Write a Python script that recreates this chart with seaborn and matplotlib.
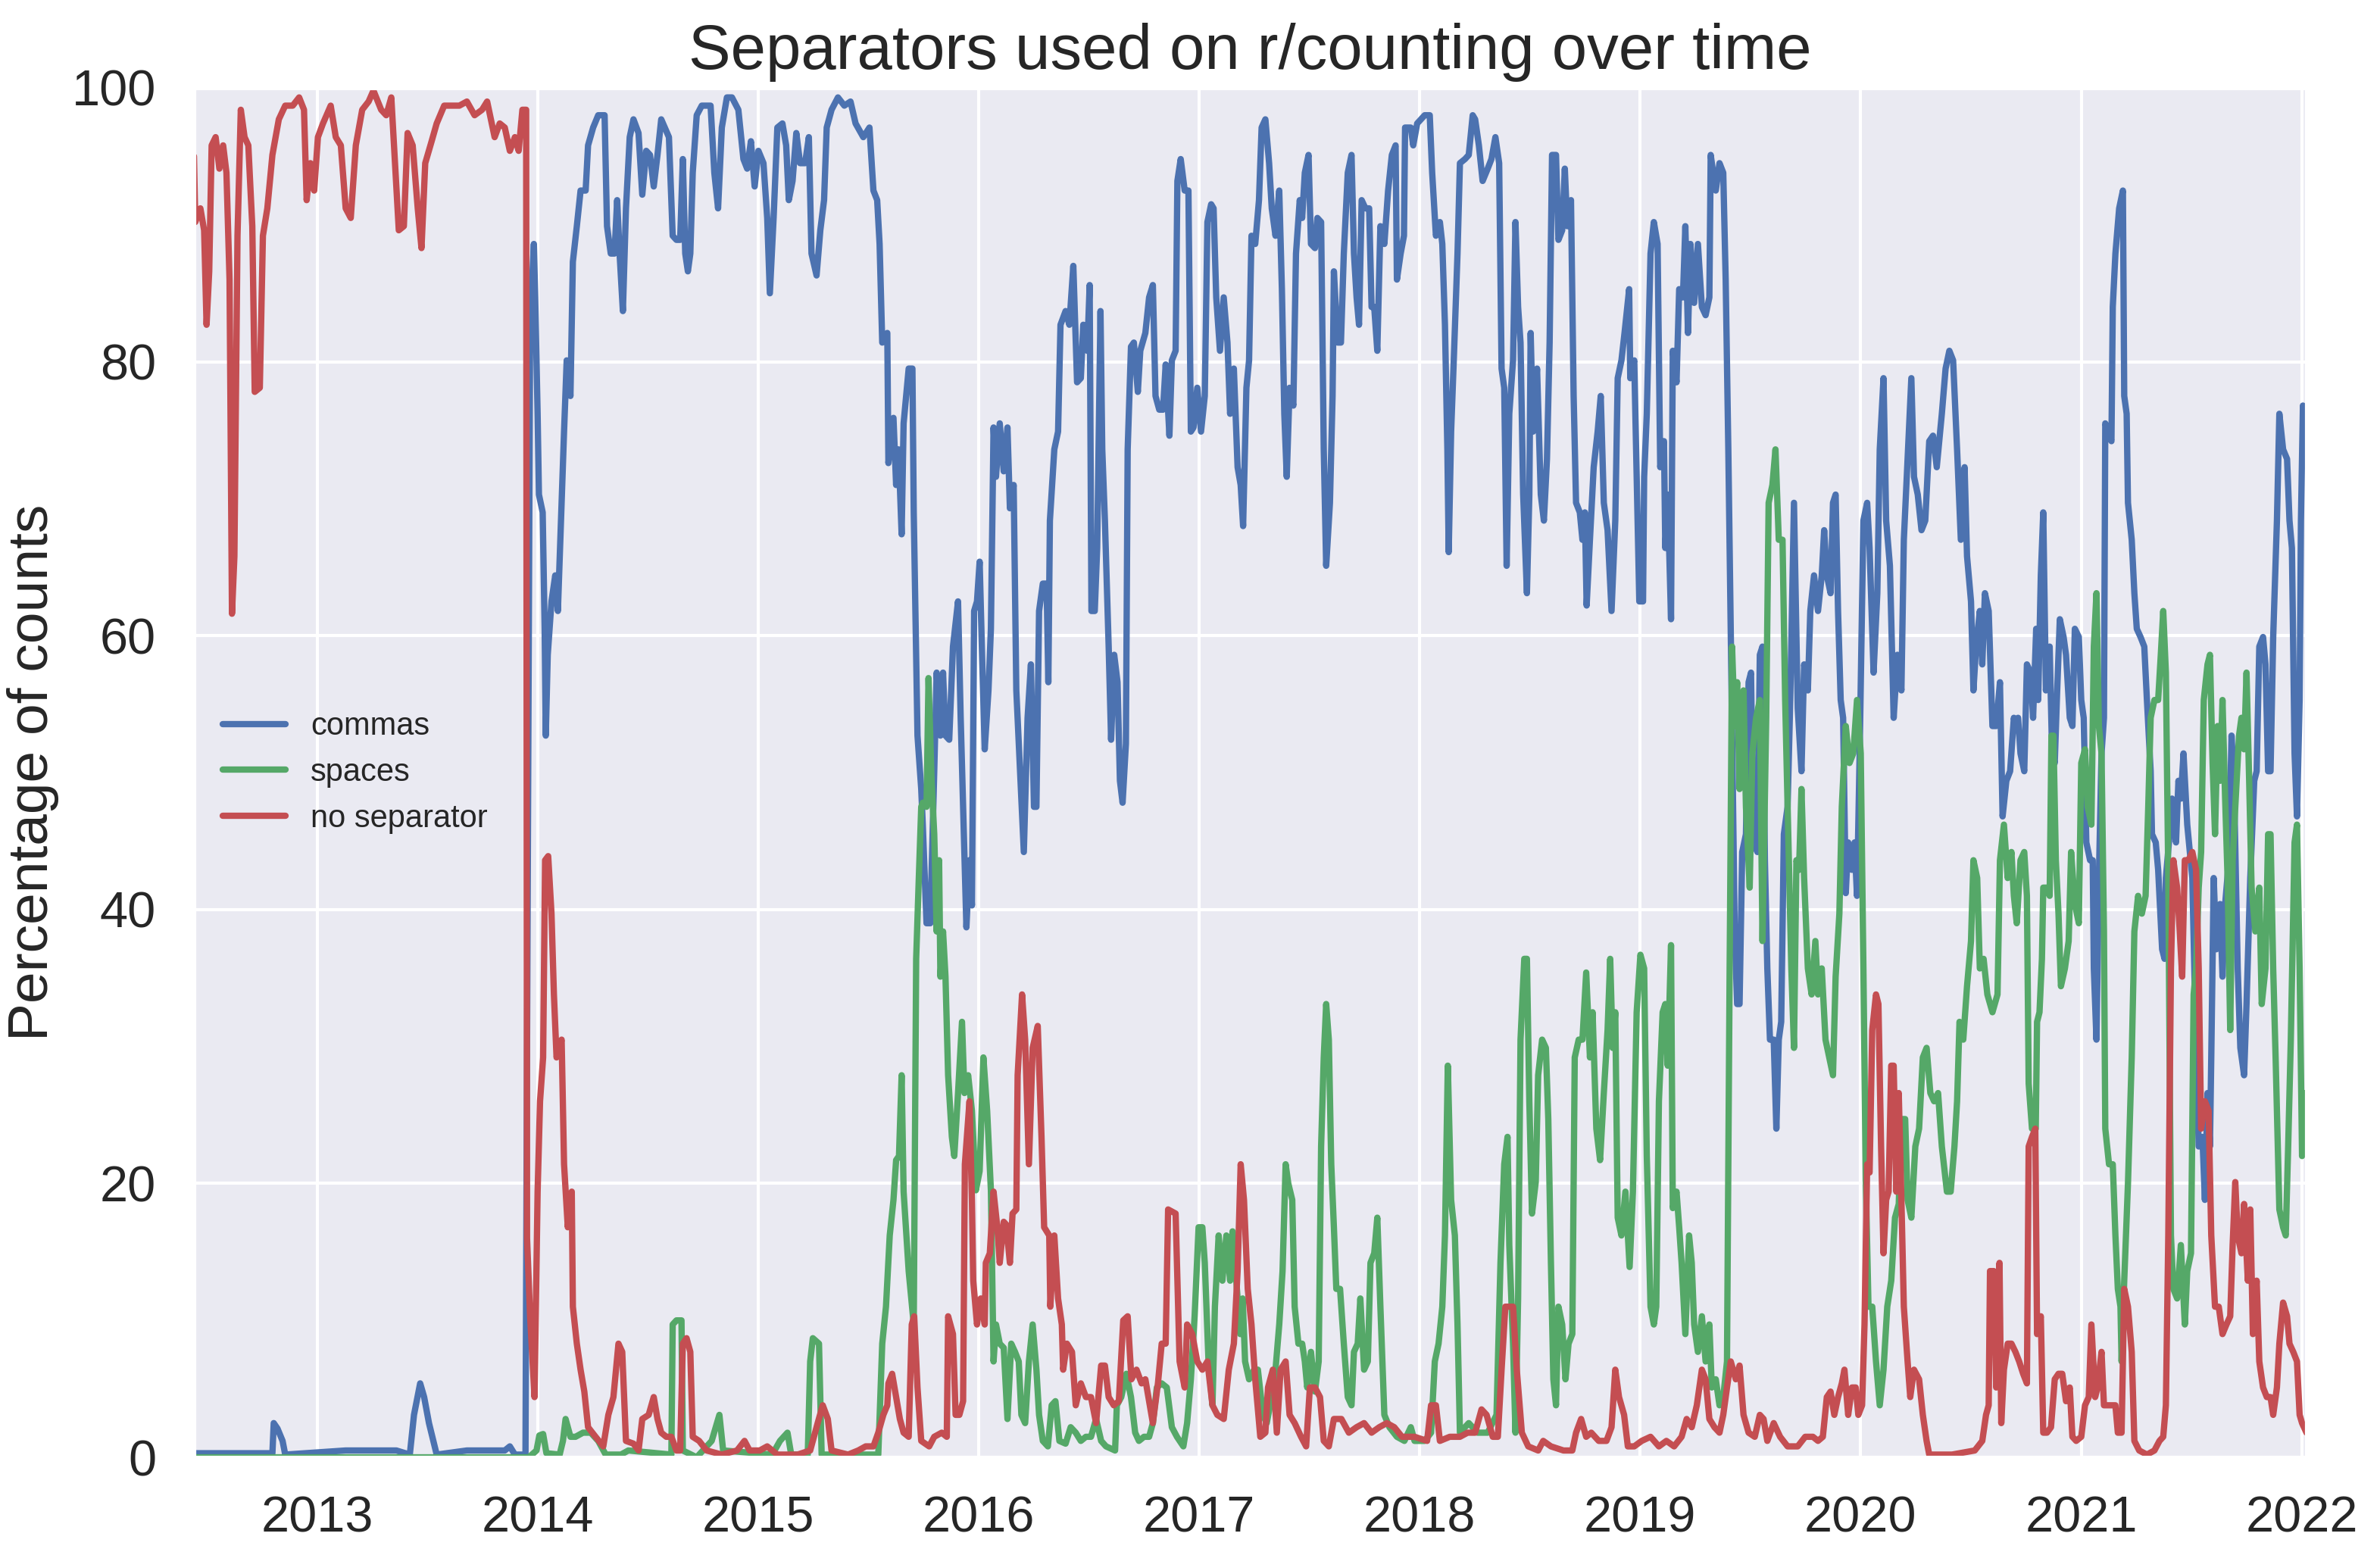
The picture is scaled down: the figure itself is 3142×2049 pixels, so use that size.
import pandas as pd
import matplotlib
matplotlib.use("Agg")
import matplotlib.pyplot as plt
import matplotlib.dates as mdates
import seaborn as sns

# values (decimal year, percent of counts)
series_names = ["commas", "spaces", "no separator"]
series_colors = ["#4C72B0", "#55A868", "#C44E52"]

commas_years = [
    2012.442, 2012.797, 2012.803, 2012.820, 2012.843, 2012.855, 2013.129, 2013.359, 2013.420, 2013.439,
    2013.467, 2013.485, 2013.507, 2013.542, 2013.679, 2013.851, 2013.874, 2013.897, 2013.945, 2013.952,
    2013.966, 2013.983, 2013.989, 2014.000, 2014.006, 2014.023, 2014.032, 2014.037, 2014.046, 2014.063,
    2014.080, 2014.092, 2014.109, 2014.120, 2014.132, 2014.149, 2014.160, 2014.178, 2014.195, 2014.218,
    2014.229, 2014.252, 2014.275, 2014.304, 2014.315, 2014.332, 2014.349, 2014.361, 2014.372, 2014.387,
    2014.401, 2014.418, 2014.435, 2014.458, 2014.475, 2014.493, 2014.510, 2014.527, 2014.544, 2014.561,
    2014.596, 2014.613, 2014.630, 2014.647, 2014.659, 2014.670, 2014.682, 2014.693, 2014.704, 2014.722,
    2014.745, 2014.785, 2014.802, 2014.819, 2014.836, 2014.859, 2014.882, 2014.911, 2014.934, 2014.951,
    2014.968, 2014.985, 2015.002, 2015.025, 2015.042, 2015.054, 2015.071, 2015.088, 2015.111, 2015.128,
    2015.140, 2015.157, 2015.174, 2015.191, 2015.214, 2015.231, 2015.243, 2015.266, 2015.283, 2015.300,
    2015.312, 2015.334, 2015.363, 2015.392, 2015.420, 2015.443, 2015.478, 2015.506, 2015.524, 2015.541,
    2015.552, 2015.564, 2015.587, 2015.592, 2015.615, 2015.627, 2015.638, 2015.652, 2015.661, 2015.684,
    2015.701, 2015.707, 2015.724, 2015.741, 2015.748, 2015.765, 2015.782, 2015.800, 2015.811, 2015.828,
    2015.840, 2015.851, 2015.868, 2015.885, 2015.908, 2015.920, 2015.931, 2015.946, 2015.960, 2015.971,
    2015.981, 2015.994, 2016.006, 2016.017, 2016.029, 2016.046, 2016.057, 2016.069, 2016.080, 2016.097,
    2016.115, 2016.132, 2016.143, 2016.160, 2016.172, 2016.189, 2016.206, 2016.223, 2016.238, 2016.252,
    2016.263, 2016.275, 2016.292, 2016.309, 2016.317, 2016.324, 2016.344, 2016.361, 2016.372, 2016.395,
    2016.412, 2016.430, 2016.447, 2016.464, 2016.475, 2016.493, 2016.504, 2016.512, 2016.527, 2016.538,
    2016.553, 2016.561, 2016.573, 2016.590, 2016.601, 2016.615, 2016.630, 2016.641, 2016.653, 2016.668,
    2016.676, 2016.691, 2016.704, 2016.722, 2016.733, 2016.756, 2016.773, 2016.790, 2016.802, 2016.819,
    2016.836, 2016.848, 2016.865, 2016.876, 2016.893, 2016.901, 2016.916, 2016.934, 2016.951, 2016.962,
    2016.974, 2016.991, 2017.008, 2017.025, 2017.037, 2017.054, 2017.065, 2017.077, 2017.094, 2017.111,
    2017.128, 2017.140, 2017.157, 2017.174, 2017.188, 2017.199, 2017.214, 2017.226, 2017.237, 2017.254,
    2017.271, 2017.283, 2017.300, 2017.317, 2017.329, 2017.346, 2017.363, 2017.375, 2017.386, 2017.397,
    2017.410, 2017.427, 2017.439, 2017.456, 2017.467, 2017.479, 2017.496, 2017.507, 2017.525, 2017.536,
    2017.553, 2017.565, 2017.576, 2017.593, 2017.605, 2017.611, 2017.628, 2017.643, 2017.656, 2017.674,
    2017.691, 2017.702, 2017.714, 2017.725, 2017.737, 2017.754, 2017.771, 2017.782, 2017.794, 2017.808,
    2017.822, 2017.840, 2017.857, 2017.874, 2017.891, 2017.897, 2017.914, 2017.929, 2017.934, 2017.960,
    2017.971, 2017.989, 2018.023, 2018.046, 2018.057, 2018.074, 2018.092, 2018.103, 2018.115, 2018.126,
    2018.132, 2018.143, 2018.155, 2018.172, 2018.183, 2018.206, 2018.223, 2018.241, 2018.252, 2018.269,
    2018.286, 2018.309, 2018.326, 2018.344, 2018.361, 2018.372, 2018.384, 2018.395, 2018.407, 2018.424,
    2018.435, 2018.447, 2018.458, 2018.470, 2018.487, 2018.498, 2018.504, 2018.515, 2018.533, 2018.550,
    2018.564, 2018.578, 2018.590, 2018.601, 2018.619, 2018.630, 2018.647, 2018.659, 2018.670, 2018.687,
    2018.699, 2018.710, 2018.727, 2018.739, 2018.750, 2018.758, 2018.773, 2018.790, 2018.808, 2018.822,
    2018.836, 2018.853, 2018.871, 2018.888, 2018.899, 2018.916, 2018.930, 2018.951, 2018.956, 2018.974,
    2018.985, 2018.997, 2019.014, 2019.019, 2019.031, 2019.048, 2019.063, 2019.080, 2019.092, 2019.109,
    2019.115, 2019.126, 2019.141, 2019.149, 2019.166, 2019.178, 2019.195, 2019.206, 2019.218, 2019.229,
    2019.246, 2019.263, 2019.281, 2019.298, 2019.315, 2019.321, 2019.344, 2019.361, 2019.378, 2019.389,
    2019.401, 2019.412, 2019.420, 2019.430, 2019.441, 2019.452, 2019.464, 2019.481, 2019.493, 2019.504,
    2019.515, 2019.533, 2019.544, 2019.556, 2019.567, 2019.578, 2019.590, 2019.607, 2019.619, 2019.630,
    2019.641, 2019.653, 2019.670, 2019.682, 2019.699, 2019.716, 2019.733, 2019.745, 2019.762, 2019.773,
    2019.790, 2019.808, 2019.825, 2019.836, 2019.848, 2019.865, 2019.876, 2019.888, 2019.899, 2019.911,
    2019.922, 2019.934, 2019.945, 2019.962, 2019.974, 2019.985, 2019.997, 2020.014, 2020.031, 2020.042,
    2020.060, 2020.077, 2020.088, 2020.105, 2020.117, 2020.134, 2020.151, 2020.168, 2020.186, 2020.197,
    2020.214, 2020.231, 2020.243, 2020.260, 2020.277, 2020.294, 2020.312, 2020.329, 2020.346, 2020.369,
    2020.386, 2020.403, 2020.420, 2020.438, 2020.455, 2020.472, 2020.483, 2020.501, 2020.512, 2020.524,
    2020.541, 2020.552, 2020.564, 2020.581, 2020.598, 2020.615, 2020.632, 2020.644, 2020.661, 2020.678,
    2020.695, 2020.702, 2020.714, 2020.725, 2020.742, 2020.754, 2020.771, 2020.782, 2020.796, 2020.805,
    2020.817, 2020.828, 2020.840, 2020.857, 2020.868, 2020.880, 2020.891, 2020.903, 2020.920, 2020.931,
    2020.948, 2020.960, 2020.971, 2020.989, 2021.000, 2021.011, 2021.023, 2021.040, 2021.052, 2021.057,
    2021.069, 2021.080, 2021.092, 2021.103, 2021.109, 2021.120, 2021.137, 2021.143, 2021.155, 2021.172,
    2021.189, 2021.195, 2021.206, 2021.212, 2021.229, 2021.241, 2021.252, 2021.269, 2021.286, 2021.298,
    2021.315, 2021.321, 2021.338, 2021.349, 2021.367, 2021.378, 2021.384, 2021.401, 2021.412, 2021.430,
    2021.441, 2021.452, 2021.464, 2021.481, 2021.504, 2021.521, 2021.533, 2021.550, 2021.561, 2021.573,
    2021.584, 2021.590, 2021.601, 2021.613, 2021.630, 2021.641, 2021.653, 2021.670, 2021.682, 2021.693,
    2021.710, 2021.722, 2021.739, 2021.750, 2021.767, 2021.785, 2021.796, 2021.808, 2021.825, 2021.836,
    2021.848, 2021.859, 2021.871, 2021.888, 2021.899, 2021.916, 2021.934, 2021.945, 2021.956, 2021.968,
    2021.979, 2021.991, 2021.997, 2022.006, 2022.022,
]
commas_pct = [
    0.3, 0.3, 2.5, 2.1, 1.2, 0.2, 0.5, 0.5, 0.2, 3.1,
    5.4, 4.4, 2.5, 0.2, 0.5, 0.5, 0.8, 0.2, 0.2, 30.0,
    82.7, 88.6, 84.7, 76.2, 70.3, 69.0, 60.5, 52.7, 58.6, 62.5,
    64.4, 61.8, 69.7, 74.9, 80.1, 77.5, 87.3, 89.9, 92.5, 92.5,
    95.8, 97.1, 98.0, 98.0, 89.9, 87.9, 87.9, 91.8, 87.9, 83.7,
    91.2, 96.4, 97.7, 96.7, 92.2, 95.4, 95.1, 92.8, 95.1, 97.7,
    96.4, 89.2, 88.9, 88.9, 94.8, 87.9, 86.6, 87.9, 93.8, 98.0,
    98.7, 98.7, 93.8, 91.2, 97.1, 99.3, 99.3, 98.4, 94.8, 94.1,
    96.1, 92.8, 95.4, 94.5, 90.5, 85.0, 90.5, 97.1, 97.4, 95.8,
    91.8, 93.2, 96.7, 94.5, 94.5, 96.4, 87.9, 86.3, 89.6, 91.8,
    97.1, 98.4, 99.3, 98.7, 99.0, 97.4, 96.4, 97.1, 92.5, 91.8,
    88.6, 81.4, 82.1, 72.6, 75.9, 71.0, 73.6, 67.4, 75.5, 79.5,
    79.5, 69.0, 52.7, 48.8, 46.2, 39.0, 39.0, 50.1, 57.3, 52.7,
    57.3, 52.7, 52.4, 59.2, 62.5, 54.0, 47.5, 38.7, 43.6, 40.3,
    61.8, 62.5, 65.4, 58.6, 51.7, 56.0, 60.5, 75.2, 71.6, 75.5,
    72.0, 75.2, 69.3, 71.0, 56.0, 50.1, 44.2, 54.0, 57.9, 47.5,
    47.5, 61.8, 63.8, 63.8, 56.6, 68.4, 73.6, 74.9, 82.7, 83.7,
    82.7, 87.0, 78.5, 78.8, 82.7, 80.8, 85.6, 61.8, 61.8, 66.4,
    83.7, 73.6, 68.4, 59.2, 52.4, 58.6, 56.6, 49.4, 47.8, 52.1,
    73.6, 81.1, 81.4, 77.8, 80.8, 82.1, 84.7, 85.6, 77.5, 76.5,
    76.5, 79.8, 74.6, 80.1, 80.8, 93.2, 94.8, 92.5, 92.5, 74.9,
    75.2, 78.1, 74.9, 77.5, 90.2, 91.5, 91.2, 84.7, 80.8, 84.7,
    81.4, 76.2, 79.5, 72.3, 71.0, 68.0, 78.1, 80.1, 89.2, 88.6,
    91.8, 97.1, 97.7, 94.5, 91.2, 89.2, 92.5, 85.3, 76.2, 71.6,
    78.1, 76.8, 87.9, 91.8, 90.5, 93.8, 95.1, 88.6, 88.3, 90.5,
    90.2, 73.6, 65.1, 69.7, 77.5, 86.6, 81.4, 81.4, 87.9, 93.8,
    95.1, 87.9, 84.7, 82.7, 91.8, 91.2, 91.2, 84.0, 84.0, 80.8,
    89.9, 88.6, 92.5, 95.1, 95.8, 86.0, 87.9, 89.2, 97.1, 97.1,
    95.8, 97.4, 98.0, 98.0, 93.8, 89.2, 90.2, 88.6, 82.7, 73.6,
    66.1, 74.9, 80.1, 87.9, 94.5, 94.8, 95.1, 98.0, 97.7, 95.8,
    93.2, 94.1, 94.8, 96.4, 94.5, 79.5, 78.1, 65.1, 76.2, 80.1,
    90.2, 84.0, 81.4, 70.3, 63.1, 70.3, 82.1, 74.9, 79.5, 70.3,
    68.4, 72.9, 81.4, 95.1, 95.1, 88.9, 89.6, 94.1, 89.9, 91.8,
    77.5, 69.7, 69.0, 67.0, 69.0, 62.2, 67.0, 72.3, 74.9, 77.5,
    69.7, 67.7, 61.8, 68.4, 78.8, 80.1, 82.1, 85.3, 78.8, 80.1,
    71.6, 62.5, 62.5, 71.6, 76.2, 87.9, 90.2, 88.6, 72.3, 74.2,
    66.4, 70.3, 61.2, 80.8, 78.5, 85.3, 84.7, 89.9, 82.1, 88.6,
    84.3, 88.6, 84.0, 83.4, 84.7, 95.1, 92.5, 94.5, 93.8, 86.0,
    73.6, 60.5, 50.7, 38.4, 33.1, 33.1, 44.2, 45.5, 56.6, 57.3,
    44.9, 44.2, 58.6, 59.2, 43.6, 35.7, 30.5, 30.5, 24.0, 30.5,
    31.8, 45.5, 47.5, 55.3, 69.7, 54.7, 50.1, 57.9, 56.0, 61.8,
    64.4, 61.8, 64.4, 67.7, 64.4, 63.1, 69.7, 70.3, 61.8, 55.3,
    54.0, 41.2, 44.9, 42.9, 44.9, 41.0, 51.4, 68.4, 69.7, 66.4,
    57.3, 63.1, 73.6, 78.8, 68.4, 65.1, 54.0, 58.6, 56.0, 67.0,
    72.9, 78.8, 71.6, 70.3, 67.7, 68.4, 74.2, 74.6, 72.3, 76.2,
    79.5, 80.8, 80.1, 73.6, 67.0, 72.3, 65.8, 62.5, 56.0, 59.2,
    61.8, 57.9, 63.1, 61.8, 53.4, 53.4, 56.6, 46.8, 49.4, 50.1,
    54.0, 53.4, 54.0, 51.4, 50.1, 57.9, 57.3, 54.0, 60.5, 55.3,
    64.4, 69.0, 56.0, 59.2, 51.4, 50.7, 56.0, 61.2, 59.9, 58.6,
    54.0, 53.4, 60.5, 59.9, 55.3, 54.0, 44.9, 43.6, 43.6, 35.7,
    30.5, 42.3, 51.4, 54.0, 75.5, 74.9, 74.2, 84.0, 87.9, 91.2,
    92.5, 77.5, 76.2, 69.7, 67.0, 63.1, 60.5, 59.9, 59.2, 55.3,
    50.1, 45.5, 44.9, 42.9, 37.1, 36.4, 42.3, 45.5, 48.1, 44.9,
    49.4, 48.1, 51.4, 46.2, 42.3, 29.9, 22.7, 23.4, 18.8, 26.6,
    22.7, 29.2, 42.3, 37.1, 40.4, 35.1, 40.4, 43.6, 52.7, 49.4,
    35.7, 29.9, 27.9, 33.1, 42.3, 49.4, 50.1, 59.2, 59.9, 57.9,
    50.1, 50.1, 59.9, 68.4, 76.2, 73.6, 72.9, 68.4, 66.4, 51.4,
    46.8, 55.3, 68.4, 76.8, 73.6,
]

spaces_years = [
    2012.442, 2013.960, 2013.995, 2014.008, 2014.025, 2014.040, 2014.100, 2014.115, 2014.127, 2014.149,
    2014.172, 2014.206, 2014.241, 2014.275, 2014.309, 2014.378, 2014.412, 2014.607, 2014.613, 2014.630,
    2014.653, 2014.659, 2014.722, 2014.790, 2014.825, 2014.842, 2015.065, 2015.100, 2015.134, 2015.151,
    2015.226, 2015.237, 2015.249, 2015.277, 2015.289, 2015.546, 2015.564, 2015.581, 2015.598, 2015.615,
    2015.627, 2015.640, 2015.652, 2015.661, 2015.684, 2015.707, 2015.718, 2015.730, 2015.741, 2015.748,
    2015.765, 2015.774, 2015.788, 2015.800, 2015.811, 2015.822, 2015.828, 2015.840, 2015.851, 2015.863,
    2015.880, 2015.891, 2015.908, 2015.926, 2015.937, 2015.954, 2015.971, 2015.989, 2016.006, 2016.023,
    2016.040, 2016.057, 2016.069, 2016.080, 2016.097, 2016.115, 2016.132, 2016.149, 2016.166, 2016.183,
    2016.195, 2016.212, 2016.229, 2016.246, 2016.263, 2016.275, 2016.292, 2016.315, 2016.332, 2016.349,
    2016.367, 2016.395, 2016.418, 2016.441, 2016.464, 2016.487, 2016.510, 2016.533, 2016.556, 2016.578,
    2016.619, 2016.627, 2016.647, 2016.670, 2016.691, 2016.710, 2016.727, 2016.750, 2016.773, 2016.790,
    2016.808, 2016.830, 2016.853, 2016.876, 2016.899, 2016.928, 2016.945, 2016.962, 2016.979, 2016.997,
    2017.014, 2017.025, 2017.042, 2017.060, 2017.071, 2017.088, 2017.105, 2017.123, 2017.140, 2017.151,
    2017.168, 2017.186, 2017.197, 2017.208, 2017.226, 2017.249, 2017.266, 2017.289, 2017.306, 2017.329,
    2017.346, 2017.363, 2017.378, 2017.392, 2017.404, 2017.422, 2017.433, 2017.450, 2017.467, 2017.479,
    2017.490, 2017.507, 2017.525, 2017.542, 2017.553, 2017.565, 2017.576, 2017.588, 2017.599, 2017.611,
    2017.622, 2017.639, 2017.656, 2017.674, 2017.691, 2017.702, 2017.719, 2017.731, 2017.748, 2017.765,
    2017.777, 2017.794, 2017.808, 2017.822, 2017.840, 2017.863, 2017.897, 2017.931, 2017.960, 2017.977,
    2018.023, 2018.052, 2018.069, 2018.086, 2018.103, 2018.115, 2018.128, 2018.143, 2018.160, 2018.172,
    2018.183, 2018.223, 2018.263, 2018.309, 2018.349, 2018.367, 2018.384, 2018.399, 2018.407, 2018.424,
    2018.435, 2018.447, 2018.458, 2018.475, 2018.487, 2018.498, 2018.510, 2018.527, 2018.538, 2018.556,
    2018.573, 2018.584, 2018.596, 2018.607, 2018.619, 2018.630, 2018.647, 2018.662, 2018.676, 2018.693,
    2018.704, 2018.722, 2018.739, 2018.756, 2018.773, 2018.785, 2018.802, 2018.819, 2018.836, 2018.853,
    2018.865, 2018.876, 2018.888, 2018.899, 2018.916, 2018.934, 2018.953, 2018.968, 2018.985, 2019.002,
    2019.019, 2019.031, 2019.048, 2019.063, 2019.074, 2019.086, 2019.103, 2019.115, 2019.126, 2019.141,
    2019.149, 2019.166, 2019.178, 2019.189, 2019.206, 2019.223, 2019.235, 2019.246, 2019.263, 2019.281,
    2019.298, 2019.315, 2019.326, 2019.344, 2019.361, 2019.378, 2019.395, 2019.407, 2019.418, 2019.430,
    2019.441, 2019.452, 2019.470, 2019.481, 2019.498, 2019.510, 2019.527, 2019.544, 2019.556, 2019.573,
    2019.584, 2019.601, 2019.615, 2019.630, 2019.647, 2019.659, 2019.670, 2019.687, 2019.699, 2019.710,
    2019.722, 2019.733, 2019.745, 2019.762, 2019.779, 2019.796, 2019.808, 2019.825, 2019.842, 2019.859,
    2019.876, 2019.888, 2019.905, 2019.916, 2019.934, 2019.951, 2019.968, 2019.985, 2020.002, 2020.014,
    2020.025, 2020.037, 2020.054, 2020.071, 2020.088, 2020.105, 2020.122, 2020.140, 2020.157, 2020.174,
    2020.186, 2020.203, 2020.214, 2020.231, 2020.249, 2020.266, 2020.283, 2020.300, 2020.317, 2020.334,
    2020.352, 2020.369, 2020.392, 2020.409, 2020.426, 2020.438, 2020.449, 2020.466, 2020.483, 2020.501,
    2020.512, 2020.529, 2020.541, 2020.558, 2020.575, 2020.598, 2020.621, 2020.632, 2020.650, 2020.667,
    2020.684, 2020.695, 2020.708, 2020.725, 2020.742, 2020.754, 2020.762, 2020.777, 2020.794, 2020.800,
    2020.811, 2020.822, 2020.828, 2020.845, 2020.857, 2020.865, 2020.874, 2020.885, 2020.897, 2020.908,
    2020.926, 2020.943, 2020.954, 2020.971, 2020.989, 2021.000, 2021.017, 2021.029, 2021.046, 2021.057,
    2021.069, 2021.080, 2021.092, 2021.103, 2021.109, 2021.126, 2021.143, 2021.155, 2021.166, 2021.178,
    2021.183, 2021.195, 2021.212, 2021.229, 2021.241, 2021.258, 2021.275, 2021.292, 2021.304, 2021.315,
    2021.332, 2021.349, 2021.361, 2021.372, 2021.384, 2021.395, 2021.407, 2021.418, 2021.435, 2021.452,
    2021.470, 2021.481, 2021.498, 2021.510, 2021.521, 2021.533, 2021.544, 2021.556, 2021.573, 2021.584,
    2021.596, 2021.607, 2021.619, 2021.630, 2021.641, 2021.653, 2021.664, 2021.676, 2021.687, 2021.699,
    2021.716, 2021.727, 2021.739, 2021.750, 2021.762, 2021.773, 2021.790, 2021.808, 2021.819, 2021.836,
    2021.848, 2021.859, 2021.871, 2021.882, 2021.899, 2021.916, 2021.928, 2021.939, 2021.951, 2021.968,
    2021.979, 2021.991, 2022.002, 2022.014, 2022.022,
]
spaces_pct = [
    0.0, 0.0, 0.5, 1.6, 1.7, 0.3, 0.2, 1.2, 2.8, 1.5,
    1.5, 1.8, 1.8, 1.2, 0.2, 0.2, 0.5, 0.2, 9.7, 10.0,
    10.0, 0.5, 0.0, 1.2, 3.1, 0.5, 0.2, 1.2, 1.8, 0.2,
    0.2, 7.0, 8.7, 8.3, 0.2, 0.2, 8.3, 11.0, 16.2, 18.8,
    21.7, 22.0, 27.9, 19.4, 13.6, 9.7, 36.4, 42.3, 47.5, 47.8,
    47.5, 56.9, 49.4, 45.5, 38.4, 43.6, 35.1, 38.4, 35.1, 27.9,
    23.4, 22.0, 26.6, 31.8, 26.6, 27.9, 25.3, 19.5, 20.9, 29.2,
    25.3, 19.5, 7.0, 9.7, 8.3, 8.0, 2.8, 8.3, 7.7, 7.0,
    3.1, 2.5, 7.0, 9.7, 6.4, 3.1, 1.2, 0.8, 3.8, 4.1,
    1.2, 1.0, 2.2, 1.8, 1.2, 1.5, 1.5, 2.8, 1.2, 0.8,
    0.5, 3.8, 4.4, 6.1, 4.4, 1.8, 1.2, 1.5, 1.5, 2.5,
    5.1, 5.4, 5.1, 2.2, 1.5, 0.8, 2.5, 5.7, 10.3, 16.8,
    16.8, 14.2, 7.0, 3.8, 11.0, 16.2, 12.9, 16.2, 12.9, 16.5,
    12.9, 9.0, 11.6, 7.0, 5.7, 6.4, 6.4, 3.1, 2.5, 4.4,
    6.4, 9.7, 13.6, 21.4, 20.0, 18.8, 11.0, 8.3, 8.3, 7.0,
    5.1, 7.7, 4.8, 7.0, 22.7, 29.2, 33.1, 30.5, 21.4, 16.8,
    12.3, 12.3, 8.3, 4.4, 3.8, 7.7, 8.3, 11.6, 6.4, 7.0,
    14.2, 14.9, 17.5, 11.0, 3.1, 2.2, 1.5, 1.2, 2.2, 1.2,
    1.2, 1.8, 7.0, 8.3, 11.0, 16.2, 28.6, 18.8, 16.2, 9.7,
    1.8, 2.5, 1.8, 1.8, 3.1, 14.2, 21.4, 23.4, 15.5, 8.3,
    1.8, 11.6, 30.5, 36.4, 36.4, 26.0, 17.8, 20.1, 27.9, 30.5,
    29.9, 24.7, 14.2, 5.7, 3.8, 11.0, 9.7, 5.7, 8.3, 9.0,
    29.2, 30.5, 30.5, 35.4, 29.2, 32.5, 24.0, 21.7, 26.6, 31.2,
    36.4, 29.9, 32.5, 17.5, 16.2, 19.4, 13.9, 19.4, 32.5, 36.7,
    35.7, 22.0, 11.0, 9.7, 11.0, 26.0, 32.5, 33.1, 28.6, 37.4,
    18.2, 19.4, 16.8, 14.2, 9.0, 16.2, 14.2, 9.7, 7.7, 10.3,
    7.0, 9.7, 5.1, 5.7, 3.8, 4.4, 7.0, 35.7, 59.2, 53.4,
    56.6, 48.8, 56.0, 47.5, 41.6, 51.4, 54.0, 55.3, 37.7, 54.0,
    69.7, 71.0, 73.6, 67.0, 67.0, 55.3, 47.5, 35.7, 29.9, 43.6,
    42.9, 48.8, 42.3, 35.7, 33.8, 37.7, 33.8, 35.7, 30.5, 29.2,
    27.9, 35.1, 39.7, 47.5, 53.4, 50.7, 51.4, 55.3, 51.4, 35.7,
    20.0, 11.0, 11.0, 7.0, 3.8, 6.4, 11.0, 12.9, 17.5, 18.5,
    24.7, 24.7, 18.8, 17.5, 22.7, 24.0, 29.2, 29.9, 26.6, 26.0,
    26.6, 22.7, 19.4, 19.4, 22.7, 26.0, 31.8, 30.5, 34.4, 37.7,
    43.6, 42.3, 35.7, 36.4, 33.8, 32.5, 33.8, 43.6, 46.2, 42.3,
    44.2, 41.0, 39.0, 43.6, 44.2, 41.0, 27.3, 24.0, 24.0, 31.8,
    32.5, 36.4, 41.6, 41.6, 41.0, 52.7, 52.7, 43.6, 39.7, 34.4,
    35.7, 37.7, 44.2, 40.4, 39.0, 50.7, 51.7, 47.5, 46.2, 59.2,
    63.1, 53.4, 51.4, 38.4, 24.0, 21.4, 21.4, 16.2, 12.3, 11.0,
    7.0, 12.9, 20.0, 29.2, 38.4, 41.0, 39.7, 41.0, 47.5, 54.0,
    55.3, 55.3, 58.6, 61.8, 57.3, 42.3, 16.2, 12.3, 11.6, 15.5,
    9.7, 13.6, 14.9, 33.8, 35.7, 41.6, 44.2, 55.3, 57.9, 58.6,
    50.7, 45.5, 53.4, 49.4, 55.3, 48.1, 42.3, 31.2, 43.6, 47.5,
    52.7, 54.0, 51.7, 57.3, 49.4, 41.6, 38.4, 41.6, 33.1, 35.7,
    45.5, 45.5, 35.7, 29.2, 18.1, 16.8, 16.2, 22.7, 30.5, 44.9,
    46.2, 35.7, 22.0, 26.6, 25.3,
]

no_sep_years = [
    2012.442, 2012.448, 2012.471, 2012.488, 2012.499, 2012.511, 2012.522, 2012.540, 2012.557, 2012.574,
    2012.589, 2012.603, 2012.614, 2012.625, 2012.639, 2012.654, 2012.671, 2012.688, 2012.706, 2012.717,
    2012.740, 2012.754, 2012.774, 2012.797, 2012.826, 2012.855, 2012.889, 2012.918, 2012.940, 2012.952,
    2012.969, 2012.986, 2013.003, 2013.026, 2013.061, 2013.084, 2013.107, 2013.129, 2013.152, 2013.175,
    2013.204, 2013.233, 2013.255, 2013.290, 2013.313, 2013.336, 2013.353, 2013.370, 2013.393, 2013.410,
    2013.433, 2013.456, 2013.473, 2013.490, 2013.519, 2013.542, 2013.576, 2013.611, 2013.645, 2013.679,
    2013.714, 2013.748, 2013.771, 2013.805, 2013.828, 2013.851, 2013.874, 2013.897, 2013.914, 2013.931,
    2013.948, 2013.952, 2013.966, 2013.986, 2014.000, 2014.011, 2014.025, 2014.034, 2014.048, 2014.063,
    2014.074, 2014.086, 2014.109, 2014.120, 2014.137, 2014.155, 2014.160, 2014.178, 2014.195, 2014.212,
    2014.229, 2014.263, 2014.298, 2014.321, 2014.344, 2014.367, 2014.384, 2014.401, 2014.435, 2014.458,
    2014.475, 2014.504, 2014.527, 2014.544, 2014.561, 2014.584, 2014.607, 2014.630, 2014.647, 2014.659,
    2014.676, 2014.693, 2014.704, 2014.733, 2014.767, 2014.836, 2014.905, 2014.939, 2014.962, 2015.008,
    2015.042, 2015.088, 2015.180, 2015.237, 2015.271, 2015.294, 2015.317, 2015.334, 2015.409, 2015.455,
    2015.489, 2015.524, 2015.546, 2015.569, 2015.587, 2015.592, 2015.609, 2015.627, 2015.644, 2015.661,
    2015.684, 2015.698, 2015.709, 2015.724, 2015.741, 2015.777, 2015.800, 2015.834, 2015.857, 2015.863,
    2015.885, 2015.897, 2015.914, 2015.931, 2015.939, 2015.960, 2015.971, 2015.977, 2015.994, 2016.011,
    2016.029, 2016.034, 2016.052, 2016.069, 2016.086, 2016.097, 2016.115, 2016.126, 2016.143, 2016.155,
    2016.172, 2016.178, 2016.198, 2016.212, 2016.229, 2016.246, 2016.269, 2016.286, 2016.298, 2016.321,
    2016.326, 2016.344, 2016.361, 2016.378, 2016.384, 2016.401, 2016.424, 2016.441, 2016.464, 2016.487,
    2016.510, 2016.533, 2016.556, 2016.573, 2016.590, 2016.613, 2016.636, 2016.656, 2016.676, 2016.693,
    2016.716, 2016.739, 2016.756, 2016.773, 2016.790, 2016.813, 2016.830, 2016.848, 2016.859, 2016.893,
    2016.911, 2016.934, 2016.945, 2016.968, 2016.991, 2017.014, 2017.037, 2017.060, 2017.082, 2017.111,
    2017.134, 2017.157, 2017.174, 2017.188, 2017.203, 2017.220, 2017.237, 2017.254, 2017.277, 2017.300,
    2017.312, 2017.334, 2017.352, 2017.369, 2017.392, 2017.410, 2017.433, 2017.462, 2017.485, 2017.502,
    2017.525, 2017.548, 2017.565, 2017.588, 2017.611, 2017.645, 2017.679, 2017.714, 2017.748, 2017.782,
    2017.817, 2017.851, 2017.885, 2017.920, 2017.977, 2018.034, 2018.052, 2018.074, 2018.092, 2018.137,
    2018.183, 2018.218, 2018.252, 2018.281, 2018.304, 2018.332, 2018.355, 2018.372, 2018.389, 2018.424,
    2018.441, 2018.464, 2018.493, 2018.538, 2018.561, 2018.596, 2018.653, 2018.693, 2018.710, 2018.733,
    2018.756, 2018.779, 2018.813, 2018.848, 2018.871, 2018.888, 2018.905, 2018.928, 2018.945, 2018.974,
    2019.008, 2019.048, 2019.086, 2019.120, 2019.155, 2019.189, 2019.212, 2019.235, 2019.258, 2019.281,
    2019.298, 2019.315, 2019.338, 2019.361, 2019.378, 2019.395, 2019.412, 2019.435, 2019.452, 2019.470,
    2019.493, 2019.521, 2019.544, 2019.561, 2019.578, 2019.607, 2019.636, 2019.670, 2019.716, 2019.750,
    2019.785, 2019.808, 2019.830, 2019.848, 2019.865, 2019.882, 2019.899, 2019.916, 2019.928, 2019.945,
    2019.962, 2019.979, 2019.991, 2020.008, 2020.019, 2020.031, 2020.042, 2020.054, 2020.071, 2020.082,
    2020.094, 2020.105, 2020.117, 2020.128, 2020.140, 2020.151, 2020.163, 2020.174, 2020.186, 2020.197,
    2020.214, 2020.226, 2020.243, 2020.266, 2020.283, 2020.300, 2020.312, 2020.415, 2020.518, 2020.552,
    2020.569, 2020.581, 2020.587, 2020.604, 2020.615, 2020.630, 2020.638, 2020.650, 2020.667, 2020.684,
    2020.702, 2020.719, 2020.737, 2020.754, 2020.762, 2020.777, 2020.792, 2020.800, 2020.817, 2020.828,
    2020.845, 2020.863, 2020.880, 2020.897, 2020.914, 2020.931, 2020.948, 2020.960, 2020.977, 2021.000,
    2021.017, 2021.034, 2021.046, 2021.063, 2021.074, 2021.092, 2021.103, 2021.120, 2021.137, 2021.155,
    2021.166, 2021.183, 2021.195, 2021.212, 2021.229, 2021.241, 2021.263, 2021.298, 2021.332, 2021.355,
    2021.372, 2021.384, 2021.395, 2021.407, 2021.418, 2021.435, 2021.447, 2021.458, 2021.470, 2021.487,
    2021.504, 2021.521, 2021.533, 2021.544, 2021.561, 2021.578, 2021.590, 2021.607, 2021.624, 2021.641,
    2021.659, 2021.676, 2021.687, 2021.699, 2021.710, 2021.727, 2021.739, 2021.756, 2021.767, 2021.779,
    2021.796, 2021.808, 2021.825, 2021.842, 2021.859, 2021.871, 2021.888, 2021.899, 2021.916, 2021.934,
    2021.945, 2021.962, 2021.979, 2021.991, 2022.002, 2022.022,
]
no_sep_pct = [
    95.0, 90.2, 91.2, 89.6, 82.7, 86.6, 95.8, 96.4, 94.1, 95.8,
    93.8, 86.0, 61.6, 65.8, 89.2, 98.4, 96.4, 95.8, 89.9, 77.8,
    78.1, 89.2, 91.2, 95.1, 97.7, 98.7, 98.7, 99.3, 98.4, 91.8,
    94.5, 92.5, 96.4, 97.4, 98.7, 96.4, 95.8, 91.2, 90.5, 95.8,
    98.4, 99.0, 99.8, 98.4, 98.0, 99.3, 94.5, 89.6, 89.9, 96.7,
    95.8, 91.2, 88.3, 94.5, 96.1, 97.4, 98.7, 98.7, 98.7, 99.0,
    98.0, 98.4, 99.0, 96.4, 97.4, 97.1, 95.4, 96.4, 95.4, 98.4,
    98.4, 16.0, 10.3, 4.4, 19.4, 26.0, 29.2, 43.6, 43.9, 39.7,
    33.8, 29.2, 30.5, 21.4, 16.8, 19.4, 11.0, 8.3, 6.4, 4.8,
    2.2, 1.5, 0.8, 3.1, 4.4, 8.3, 7.7, 1.2, 1.0, 0.5,
    2.8, 3.1, 4.4, 2.8, 1.8, 1.5, 1.5, 0.5, 0.5, 8.3,
    8.7, 7.7, 1.5, 1.2, 0.5, 0.2, 0.5, 1.2, 0.5, 0.5,
    0.8, 0.2, 0.2, 0.5, 2.5, 3.8, 2.8, 0.5, 0.2, 0.5,
    0.8, 0.8, 1.8, 3.1, 3.8, 5.4, 6.1, 4.4, 2.8, 1.8,
    1.5, 9.7, 10.3, 5.1, 1.2, 0.8, 1.5, 1.8, 1.5, 10.3,
    9.0, 3.1, 3.1, 4.1, 21.4, 26.0, 18.8, 12.9, 9.7, 11.6,
    9.7, 14.2, 14.9, 19.4, 16.8, 14.2, 17.2, 17.0, 14.2, 17.8,
    18.1, 27.9, 33.8, 30.5, 21.4, 29.9, 31.5, 23.4, 16.8, 16.2,
    11.0, 16.2, 11.6, 9.7, 6.4, 8.3, 7.7, 3.8, 5.4, 4.4,
    4.4, 2.5, 6.7, 6.7, 4.4, 3.8, 4.1, 10.0, 10.3, 5.7,
    6.4, 5.4, 5.7, 4.1, 2.5, 5.4, 8.3, 8.3, 18.1, 17.8,
    7.0, 5.1, 9.7, 9.0, 7.0, 6.4, 7.0, 3.8, 3.1, 2.8,
    6.4, 8.3, 13.6, 21.4, 18.8, 12.3, 9.7, 5.7, 1.5, 1.8,
    5.1, 6.4, 1.8, 6.4, 7.0, 3.1, 2.5, 1.5, 0.8, 5.1,
    5.1, 4.4, 1.2, 0.8, 2.8, 2.8, 1.8, 2.2, 2.5, 1.8,
    2.2, 2.5, 2.2, 1.5, 1.5, 1.2, 3.8, 3.8, 1.2, 1.5,
    1.5, 1.8, 1.8, 3.5, 3.1, 1.5, 1.5, 6.4, 11.0, 11.0,
    6.4, 1.8, 0.8, 0.5, 1.2, 0.8, 0.5, 0.5, 1.8, 2.8,
    1.5, 1.8, 1.2, 1.2, 2.2, 6.4, 4.4, 3.1, 0.8, 0.8,
    1.2, 1.5, 0.8, 1.2, 0.8, 1.5, 2.8, 2.2, 3.8, 6.4,
    5.7, 2.8, 2.2, 1.8, 3.1, 5.1, 7.0, 5.7, 6.7, 3.1,
    1.8, 1.5, 3.1, 2.8, 1.2, 2.5, 1.5, 0.8, 0.8, 1.5,
    1.5, 1.2, 1.5, 4.4, 4.8, 3.1, 4.4, 5.4, 6.4, 3.1,
    5.1, 5.1, 3.1, 3.8, 9.7, 21.4, 20.8, 31.2, 33.8, 33.1,
    22.7, 14.9, 18.8, 19.4, 28.6, 28.6, 19.4, 26.6, 18.8, 11.0,
    7.0, 4.4, 6.4, 5.7, 3.1, 1.2, 0.2, 0.2, 0.5, 1.2,
    3.1, 3.8, 13.6, 13.6, 5.1, 14.2, 2.5, 6.4, 8.3, 8.3,
    7.7, 7.0, 6.1, 5.4, 22.7, 23.4, 24.0, 9.0, 10.3, 1.8,
    1.8, 2.2, 5.7, 6.1, 6.1, 4.1, 5.1, 1.5, 1.2, 1.5,
    3.8, 4.4, 9.7, 4.4, 5.1, 7.7, 3.8, 3.8, 3.8, 3.8,
    1.8, 1.8, 12.3, 11.0, 7.7, 1.2, 0.5, 0.2, 0.5, 1.2,
    1.5, 3.8, 16.2, 35.7, 43.6, 41.6, 38.4, 35.1, 43.6, 43.6,
    44.2, 42.9, 35.7, 24.0, 26.0, 25.3, 16.2, 11.0, 11.0, 9.0,
    9.7, 10.3, 15.5, 20.1, 16.2, 14.9, 18.5, 12.9, 18.1, 9.0,
    12.9, 7.0, 5.1, 4.4, 4.4, 3.1, 5.1, 8.3, 11.3, 10.3,
    8.3, 7.7, 7.0, 3.1, 2.5, 1.8,
]


def decimal_year_to_date(value):
    year = int(value)
    start = pd.Timestamp(year=year, month=1, day=1)
    end = pd.Timestamp(year=year + 1, month=1, day=1)
    return start + (end - start) * (value - year)


frames = []
for name, years, pct in zip(series_names,
                            [commas_years, spaces_years, no_sep_years],
                            [commas_pct, spaces_pct, no_sep_pct]):
    frames.append(pd.DataFrame({
        "date": [decimal_year_to_date(v) for v in years],
        "pct": pct,
        "separator": name,
    }))
df = pd.concat(frames, ignore_index=True)

sns.set_theme(style="darkgrid")
plt.rcParams["font.family"] = ["Liberation Sans", "DejaVu Sans"]

fig, ax = plt.subplots(figsize=(3142 / 300, 2049 / 300), dpi=300)
fig.subplots_adjust(left=0.0815, right=0.9691, bottom=0.0610, top=0.9434)

sns.lineplot(data=df, x="date", y="pct", hue="separator", hue_order=series_names,
             palette=series_colors, linewidth=2.0, estimator=None, sort=False, ax=ax)

ax.set_ylim(0, 100)
ax.set_xlim(df["date"].min(), df["date"].max())
ax.xaxis.set_major_locator(mdates.YearLocator())
ax.xaxis.set_major_formatter(mdates.DateFormatter("%Y"))
ax.set_xlabel("")
ax.set_ylabel("Percentage of counts", fontsize=18)
ax.set_title("Separators used on r/counting over time", fontsize=20)
ax.tick_params(axis="both", labelsize=16, pad=6)

sns.move_legend(ax, "center left", title=None, frameon=False, fontsize=10)

plt.savefig("out.png", dpi=300)
plt.close()
